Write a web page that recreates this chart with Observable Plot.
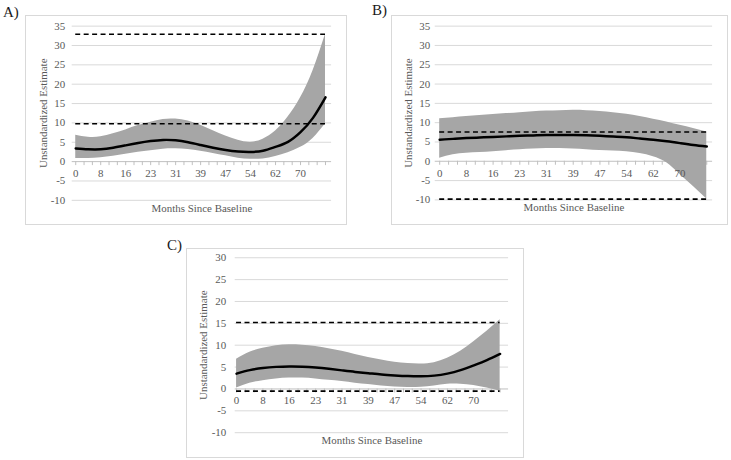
<!DOCTYPE html>
<html><head><meta charset="utf-8">
<script src="https://cdn.jsdelivr.net/npm/d3@7"></script>
<script src="https://cdn.jsdelivr.net/npm/@observablehq/plot@0.6"></script>
<style>
body{margin:0;background:#fff;}
#wrap{position:relative;width:731px;height:460px;font-family:"Liberation Serif","Times New Roman",serif;overflow:hidden;}
.panel{position:absolute;border:1px solid #d9d9d9;box-sizing:border-box;}
.panel svg{position:absolute;left:-1px;top:-1px;}
#letters{position:absolute;left:0;top:0;}
</style></head><body><div id="wrap"><svg id="letters" width="731" height="460"></svg></div>
<script>
// Data: months since baseline (category positions) and estimates
const months = [0,3.9,7.8,11.7,15.6,19.5,23.4,27.3,31.2,35.1,39,42.9,46.8,50.7,54.6,58.5,62.4,66.3,70.2,74.1,78];
const tickLabels = ["0","8","16","23","31","39","47","54","62","70"];
const tickStep = 7.8;

const meanA  = [3.4,3.2,3.2,3.6,4.2,4.8,5.3,5.6,5.5,5.0,4.3,3.6,3.0,2.6,2.5,2.8,3.8,5.1,7.6,11.3,16.6];
const upperA = [6.8,6.3,6.4,7.2,8.2,9.3,10.2,10.9,11.0,10.5,9.4,8.0,6.6,5.5,5.0,5.8,7.9,11.5,16.5,23.5,32.9];
const lowerA = [0.8,0.8,1.0,1.4,1.9,2.4,2.8,3.2,3.3,3.1,2.7,2.1,1.5,0.9,0.6,0.7,1.3,2.3,3.7,6.0,9.8];
const refsA  = [32.9, 9.8];

const meanB  = [5.6,5.8,6.0,6.15,6.3,6.45,6.6,6.7,6.8,6.8,6.8,6.75,6.6,6.4,6.2,5.9,5.6,5.2,4.7,4.2,3.8];
const upperB = [11.0,11.3,11.6,11.85,12.1,12.35,12.6,12.8,13.0,13.1,13.2,13.1,12.9,12.6,12.2,11.6,10.9,10.2,9.3,8.5,7.6];
const lowerB = [0.8,1.7,2.1,2.3,2.5,2.75,3.0,3.15,3.3,3.3,3.2,3.0,2.8,2.65,2.5,2.0,1.2,-0.4,-3.4,-6.5,-9.8];
const refsB  = [7.6, -9.8];

const meanC  = [3.5,4.3,4.8,5.05,5.15,5.1,4.9,4.6,4.25,3.9,3.6,3.3,3.1,2.95,2.9,3.05,3.5,4.3,5.4,6.6,8.0];
const upperC = [6.8,8.4,9.3,9.9,10.1,10.0,9.7,9.2,8.6,7.9,7.2,6.6,6.1,5.8,5.7,6.0,7.0,8.6,10.8,13.2,15.8];
const lowerC = [0.2,1.3,1.9,2.3,2.5,2.5,2.3,2.0,1.7,1.3,1.0,0.7,0.45,0.35,0.4,0.7,1.1,1.1,0.8,0.2,-0.5];
const refsC  = [15.2, -0.5];

const yTicksAB = [-10,-5,0,5,10,15,20,25,30,35];
const yTicksC  = [-10,-5,0,5,10,15,20,25,30];
const panelLetters = ["A)","B)","C)"];

const minorTicks = d3.range(0, 78.01, 2.6);
const FONT = '"Liberation Serif","Times New Roman",serif';
const wrap = document.getElementById("wrap");

function drawPanel(cfg){
  const rows = months.map((m,i)=>({m, mean: cfg.mean[i], lo: cfg.lower[i], hi: cfg.upper[i]}));
  const div = document.createElement("div");
  div.className = "panel";
  Object.assign(div.style, {left: cfg.left+"px", top: cfg.top+"px", width: cfg.w+"px", height: cfg.h+"px"});
  const chart = Plot.plot({
    width: cfg.w, height: cfg.h,
    marginLeft: cfg.ml, marginRight: cfg.mr, marginTop: cfg.mt, marginBottom: cfg.mb,
    x: {domain: cfg.xDomain, axis: null},
    y: {domain: cfg.yDomain, axis: null},
    style: {fontFamily: FONT, fontSize: "11px", color: "#595959", background: "transparent", overflow: "visible"},
    marks: [
      Plot.ruleY(cfg.yTicks.filter(v => v !== 0), {stroke: "#d9d9d9", strokeWidth: 1}),
      Plot.ruleY([0], {stroke: "#bfbfbf", strokeWidth: 1}),
      Plot.ruleX(minorTicks, {y1: 0, y2: 0, insetBottom: -4, stroke: "#bfbfbf", strokeWidth: 1}),
      Plot.areaY(rows, {x: "m", y1: "lo", y2: "hi", fill: "#a6a6a6", curve: "natural"}),
      Plot.lineY(rows, {x: "m", y: "mean", stroke: "#000", strokeWidth: 2.5, curve: "natural"}),
      Plot.ruleY(cfg.refs, {x1: months[0], x2: months[months.length-1], stroke: "#000", strokeWidth: 1.6, strokeDasharray: "5,3.5"}),
      Plot.text(tickLabels, {x: (d,i) => i*tickStep, y: 0, dy: 12, fill: "#595959", fontSize: 11, lineAnchor: "middle"}),
      Plot.axisY({ticks: cfg.yTicks, tickSize: 0, tickPadding: cfg.pad, fontSize: 11, label: null, tickFormat: d => String(d)}),
      Plot.text(["Unstandardized Estimate"], {frameAnchor: "left", rotate: -90, dx: cfg.ytDx, textAnchor: "middle", lineAnchor: "middle", fill: "#595959", fontSize: 11}),
      Plot.text(["Months Since Baseline"], {frameAnchor: "bottom", dy: 8, textAnchor: "middle", lineAnchor: "middle", fill: "#595959", fontSize: 11})
    ]
  });
  div.appendChild(chart);
  wrap.appendChild(div);
}

drawPanel({mean: meanA, upper: upperA, lower: lowerA, refs: refsA, yTicks: yTicksAB, yDomain: [-10,35],
  left: 25, top: 15, w: 322, h: 210, ml: 47, mr: 14, mt: 10.7, mb: 24, xDomain: [-1.1, 79.9], pad: 7, ytDx: -29});
drawPanel({mean: meanB, upper: upperB, lower: lowerB, refs: refsB, yTicks: yTicksAB, yDomain: [-10,35],
  left: 391, top: 15, w: 337, h: 210, ml: 44, mr: 14, mt: 10.7, mb: 24.5, xDomain: [-1.3, 79.7], pad: 5, ytDx: -27});
drawPanel({mean: meanC, upper: upperC, lower: lowerC, refs: refsC, yTicks: yTicksC, yDomain: [-10,30],
  left: 186, top: 248, w: 338, h: 210, ml: 49, mr: 14, mt: 9.3, mb: 24.7, xDomain: [-0.4, 80.5], pad: 9, ytDx: -32});

// Panel letters
const letterPos = [[3,16.5],[372,15],[167,250]];
const ls = d3.select("#letters");
panelLetters.forEach((t,i) => {
  ls.append("text").attr("x", letterPos[i][0]).attr("y", letterPos[i][1])
    .attr("font-family", FONT).attr("font-size", 15).attr("fill", "#1a1a1a").text(t);
});
</script></body></html>
